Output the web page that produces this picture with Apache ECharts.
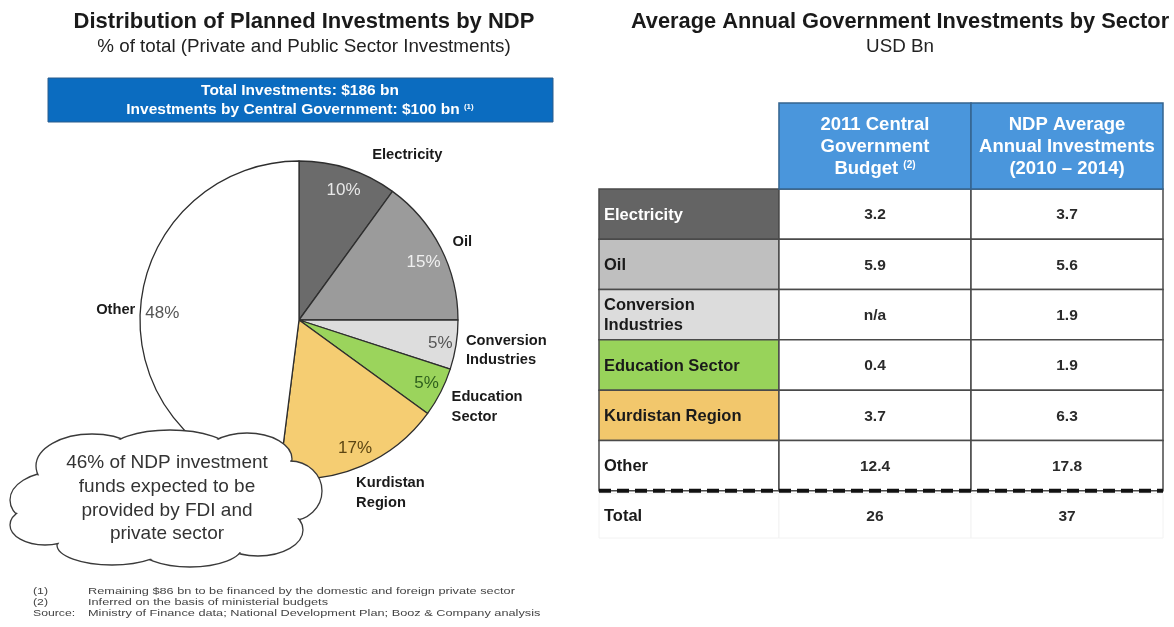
<!DOCTYPE html>
<html>
<head>
<meta charset="utf-8">
<script src="https://cdn.jsdelivr.net/npm/echarts@6/dist/echarts.min.js"></script>
<style>html,body{margin:0;padding:0;background:#fff}#c{width:1174px;height:627px}</style>
</head>
<body>
<div id="c"></div>
<script>
// ---------- DATA ----------
const pieNames = ['Electricity', 'Oil', 'Conversion Industries', 'Education Sector', 'Kurdistan Region', 'Other'];
const piePercent = [10, 15, 5, 5, 17, 48];
const tableSectors = ['Electricity', 'Oil', 'Conversion\nIndustries', 'Education Sector', 'Kurdistan Region', 'Other'];
const budget2011 = [3.2, 5.9, null, 0.4, 3.7, 12.4];
const ndpAverage = [3.7, 5.6, 1.9, 1.9, 6.3, 17.8];
const totalLabel = 'Total';
const totalBudget2011 = 26;
const totalNdpAverage = 37;
const tableHeaders = ['2011 Central\nGovernment\nBudget {sup|(2)}', 'NDP Average\nAnnual Investments\n(2010 – 2014)'];
const footnotes = [
  ['(1)', 'Remaining $86 bn to be financed by the domestic and foreign private sector'],
  ['(2)', 'Inferred on the basis of ministerial budgets'],
  ['Source:', 'Ministry of Finance data; National Development Plan; Booz & Company analysis']
];

// ---------- STYLE ----------
const FONT = '"Liberation Sans", Arial, sans-serif';
const sliceColors = ['#6b6b6b', '#9b9b9b', '#dddddd', '#9bd45c', '#f5cd72', '#ffffff'];
const pctColors = ['#e8e8e8', '#f0f0f0', '#555555', '#2e5f1c', '#5c4512', '#555555'];
const pctShift = [[1, 4], [-1, 6], [2, 1], [2, -1], [0, -1], [4, 2]];
const pieLabelText = ['Electricity', 'Oil', 'Conversion\nIndustries', 'Education\nSector', 'Kurdistan\nRegion', 'Other'];
const nameLabelShift = [[16, -4], [-2, -1], [-5, 4], [-3, 10], [-15, 18], [10, 1]];
const rowFill = ['#646464', '#bfbfbf', '#dcdcdc', '#98d35a', '#f2c76c', '#ffffff'];
const rowTextColor = ['#ffffff', '#1a1a1a', '#1a1a1a', '#1a1a1a', '#1a1a1a', '#1a1a1a'];
const colEdges = [0, 0.3191, 0.6596, 1];
const headerBlue = '#4a96dc';
const borderCol = '#4a4a4a';

const rowNames = tableSectors.concat([totalLabel]);

function fmt(v) { return v == null ? 'n/a' : v.toFixed(1); }

const cellData = [];
rowNames.forEach((r, ri) => { for (let c = 0; c < 3; c++) cellData.push({ value: [0.5, ri, c] }); });

function cellText(ri, c) {
  if (ri === rowNames.length - 1) {
    return c === 0 ? totalLabel : String(c === 1 ? totalBudget2011 : totalNdpAverage);
  }
  if (c === 0) return tableSectors[ri];
  return c === 1 ? fmt(budget2011[ri]) : fmt(ndpAverage[ri]);
}

function renderCell(params, api) {
  const ri = api.value(1), c = api.value(2);
  const yc = api.coord([0, ri])[1];
  const h = api.size([0, 1])[1];
  const xL = api.coord([colEdges[c], ri])[0];
  const xR = api.coord([colEdges[c + 1], ri])[0];
  const y0 = yc - h / 2;
  const isTotal = ri === rowNames.length - 1;
  const children = [];
  if (!isTotal) {
    children.push({
      type: 'rect', shape: { x: xL, y: y0, width: xR - xL, height: h },
      style: { fill: c === 0 ? rowFill[ri] : '#ffffff', stroke: borderCol, lineWidth: 1.5 }
    });
  } else {
    children.push({
      type: 'rect', shape: { x: xL, y: y0 + 3, width: xR - xL, height: h - 6 },
      style: { fill: '#ffffff', stroke: '#f2f2f2', lineWidth: 1 }
    });
  }
  const txt = cellText(ri, c);
  if (c === 0) {
    children.push({
      type: 'text', z2: 11,
      style: { text: txt, x: xL + 5, y: yc + 1, align: 'left', verticalAlign: 'middle',
        font: 'bold 16.5px ' + FONT, fill: isTotal ? '#1a1a1a' : rowTextColor[ri], lineHeight: 20 }
    });
  } else {
    children.push({
      type: 'text', z2: 11,
      style: { text: txt, x: (xL + xR) / 2, y: yc + 1, align: 'center', verticalAlign: 'middle',
        font: 'bold 15.5px ' + FONT, fill: '#2a2a2a' }
    });
  }
  return { type: 'group', children };
}

// dashed separator above the Total row, drawn once on top of all cells
function renderSeparator(params, api) {
  const ri = api.value(1);
  const yc = api.coord([0, ri])[1];
  const h = api.size([0, 1])[1];
  const y0 = yc - h / 2;
  return {
    type: 'line', shape: { x1: api.coord([0, ri])[0], y1: y0, x2: api.coord([1, ri])[0], y2: y0 },
    style: { stroke: '#111', lineWidth: 4, lineDash: [12, 6] }
  };
}

function renderHeader(params, api) {
  const c = api.value(2);
  const yc = api.coord([0, 0])[1];
  const h = api.size([0, 1])[1];
  const top0 = yc - h / 2;
  const hh = h * 1.71;
  const xL = api.coord([colEdges[c], 0])[0];
  const xR = api.coord([colEdges[c + 1], 0])[0];
  return {
    type: 'group', children: [
      { type: 'rect', shape: { x: xL, y: top0 - hh, width: xR - xL, height: hh },
        style: { fill: headerBlue, stroke: '#35648f', lineWidth: 1.5 } },
      { type: 'text', style: { text: tableHeaders[c - 1], x: (xL + xR) / 2, y: top0 - hh / 2 + 1,
          align: 'center', verticalAlign: 'middle', font: 'bold 18.5px ' + FONT, fill: '#ffffff', lineHeight: 22,
          rich: { sup: { fontSize: 10, fontWeight: 'bold', fill: '#ffffff', padding: [0, 0, 8, 0] } } } }
    ]
  };
}

// cloud bumps [cx, cy, rx, ry]
const cloudBumps = [
  [55, 500, 45, 28], [92, 466, 56, 32], [170, 451, 60, 21], [247, 459, 45, 26],
  [290, 491, 32, 30], [258, 530, 45, 26], [190, 547, 52, 20], [112, 545, 55, 20], [45, 525, 35, 20]
];
const cloudChildren = [];
cloudBumps.forEach(b => cloudChildren.push({ type: 'ellipse', shape: { cx: b[0], cy: b[1], rx: b[2], ry: b[3] },
  style: { fill: '#fff', stroke: '#3a3a3a', lineWidth: 1.3 }, z: 20 }));
cloudBumps.forEach(b => cloudChildren.push({ type: 'ellipse', shape: { cx: b[0], cy: b[1], rx: b[2] - 1.6, ry: b[3] - 1.6 },
  style: { fill: '#fff' }, z: 21 }));
cloudChildren.push({ type: 'ellipse', shape: { cx: 166, cy: 497, rx: 132, ry: 50 }, style: { fill: '#fff' }, z: 21 });
cloudChildren.push({ type: 'text', z: 22, style: { text: '46% of NDP investment\nfunds expected to be\nprovided by FDI and\nprivate sector',
  x: 167, y: 498.5, align: 'center', verticalAlign: 'middle', font: '19px ' + FONT, fill: '#333', lineHeight: 23.8 } });

const footChildren = [];
footnotes.forEach((f, i) => {
  footChildren.push({ type: 'text', x: 33, y: 591 + i * 11, scaleX: 1.25,
    style: { text: f[0], x: 0, y: 0, verticalAlign: 'middle', font: '9.8px ' + FONT, fill: '#444' } });
  footChildren.push({ type: 'text', x: 88, y: 591 + i * 11, scaleX: 1.3,
    style: { text: f[1], x: 0, y: 0, verticalAlign: 'middle', font: '9.8px ' + FONT, fill: '#444' } });
});

const chart = echarts.init(document.getElementById('c'), null, { renderer: 'canvas' });
chart.setOption({
  animation: false,
  backgroundColor: '#ffffff',
  title: [
    { text: 'Distribution of Planned Investments by NDP', subtext: '% of total (Private and Public Sector Investments)',
      left: 299, top: 6, textAlign: 'center', itemGap: 4,
      textStyle: { fontFamily: FONT, fontSize: 22, fontWeight: 'bold', color: '#1a1a1a' },
      subtextStyle: { fontFamily: FONT, fontSize: 18.8, color: '#222' } },
    { text: 'Average Annual Government Investments by Sector', subtext: 'USD Bn',
      left: 895, top: 6, textAlign: 'center', itemGap: 4,
      textStyle: { fontFamily: FONT, fontSize: 21.8, fontWeight: 'bold', color: '#1a1a1a' },
      subtextStyle: { fontFamily: FONT, fontSize: 18.8, color: '#222' } }
  ],
  grid: { left: 599, right: 11, top: 189, bottom: 86 },
  xAxis: { type: 'value', min: 0, max: 1, show: false },
  yAxis: { type: 'category', data: rowNames, inverse: true, show: false },
  graphic: [
    { type: 'rect', shape: { x: 48, y: 78, width: 505, height: 44 }, style: { fill: '#0b6cc0', stroke: '#2a5c8c', lineWidth: 1 } },
    { type: 'text', style: { text: 'Total Investments: $186 bn\nInvestments by Central Government: $100 bn {sup|(1)}',
        x: 300, y: 100, align: 'center', verticalAlign: 'middle', font: 'bold 15.5px ' + FONT, fill: '#fff', lineHeight: 19,
        rich: { sup: { fontSize: 8, fontWeight: 'bold', fill: '#fff', padding: [0, 0, 6, 0] } } } },
    { type: 'group', children: cloudChildren },
    { type: 'group', children: footChildren }
  ],
  series: [
    {
      type: 'pie', center: [299, 320], radius: 159, startAngle: 90, clockwise: true, silent: true,
      avoidLabelOverlap: false,
      itemStyle: { borderColor: '#2e2e2e', borderWidth: 1.3 },
      label: { show: true, position: 'outside', formatter: p => pieLabelText[p.dataIndex],
        fontFamily: FONT, fontSize: 14.7, fontWeight: 'bold', color: '#1a1a1a', lineHeight: 19.5 },
      labelLine: { show: false, length: 10, length2: 0 },
      labelLayout: p => ({ dx: nameLabelShift[p.dataIndex][0], dy: nameLabelShift[p.dataIndex][1] }),
      data: piePercent.map((v, i) => ({ value: v, name: pieNames[i], itemStyle: { color: sliceColors[i] } }))
    },
    {
      type: 'pie', center: [299, 320], radius: [117, 159], startAngle: 90, clockwise: true, silent: true,
      avoidLabelOverlap: false,
      itemStyle: { color: 'rgba(0,0,0,0)', borderWidth: 0 },
      label: { show: true, position: 'inside', formatter: '{c}%', fontFamily: FONT, fontSize: 17 },
      labelLine: { show: false },
      labelLayout: p => ({ dx: pctShift[p.dataIndex][0], dy: pctShift[p.dataIndex][1] }),
      data: piePercent.map((v, i) => ({ value: v, name: pieNames[i], label: { color: pctColors[i] } }))
    },
    {
      type: 'custom', coordinateSystem: 'cartesian2d', renderItem: renderCell, data: cellData,
      encode: { x: 0, y: 1 }, silent: true, clip: false
    },
    {
      type: 'custom', coordinateSystem: 'cartesian2d', renderItem: renderHeader,
      data: [{ value: [0.5, 0, 1] }, { value: [0.5, 0, 2] }], encode: { x: 0, y: 1 }, silent: true, clip: false
    },
    {
      type: 'custom', coordinateSystem: 'cartesian2d', renderItem: renderSeparator, z: 5,
      data: [{ value: [0.5, rowNames.length - 1] }], encode: { x: 0, y: 1 }, silent: true, clip: false
    }
  ]
});
</script>
</body>
</html>
